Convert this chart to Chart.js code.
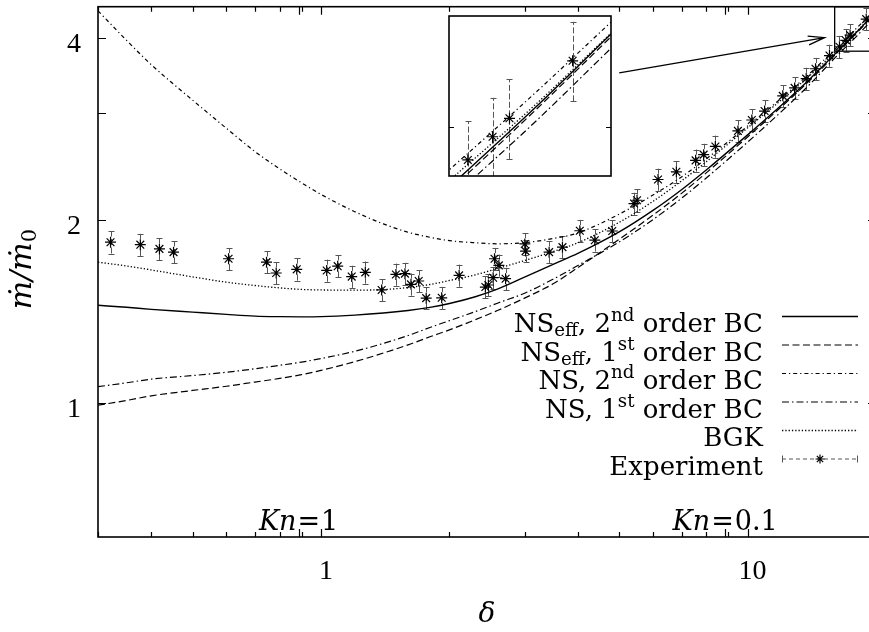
<!DOCTYPE html>
<html><head><meta charset="utf-8">
<script src="https://cdn.jsdelivr.net/npm/chart.js@4"></script>
<style>
html,body{margin:0;padding:0;background:#fff;overflow:hidden;}
#wrap{position:relative;width:869px;height:632px;overflow:hidden;background:#fff;}
#main{position:absolute;left:0;top:0;}
#inset{position:absolute;left:439px;top:6px;}
</style></head><body>
<div id="wrap">
<canvas id="main" width="900" height="632"></canvas>
<canvas id="inset" width="182" height="180"></canvas>
</div>
<script>
// ---------------- data ----------------
const deltaGrid = [0.3, 0.35, 0.4, 0.5, 0.6, 0.7, 0.8, 0.9, 1.0, 1.2, 1.4, 1.6, 1.8, 2.0, 2.3, 2.6, 3.0, 3.5, 4.0, 5.0, 6.0, 7.0, 8.0, 10, 12, 14, 16, 18, 20];
const nsEff2nd = [1.447, 1.436, 1.425, 1.41, 1.398, 1.389, 1.386, 1.385, 1.386, 1.394, 1.405, 1.419, 1.436, 1.457, 1.495, 1.54, 1.61, 1.69, 1.762, 1.912, 2.075, 2.245, 2.42, 2.765, 3.095, 3.42, 3.755, 4.082, 4.415];
const nsEff1st = [0.990, 1.008, 1.026, 1.047, 1.064, 1.081, 1.096, 1.112, 1.13, 1.168, 1.207, 1.245, 1.284, 1.318, 1.37, 1.42, 1.487, 1.57, 1.67, 1.86, 2.038, 2.214, 2.393, 2.743, 3.076, 3.403, 3.74, 4.07, 4.402];
const ns2nd = [4.43, 3.96, 3.61, 3.155, 2.835, 2.595, 2.43, 2.305, 2.205, 2.065, 1.972, 1.91, 1.874, 1.85, 1.835, 1.828, 1.836, 1.865, 1.905, 2.046, 2.2, 2.357, 2.524, 2.859, 3.179, 3.495, 3.824, 4.146, 4.471];
const ns1st = [1.062, 1.078, 1.093, 1.108, 1.122, 1.137, 1.152, 1.166, 1.182, 1.215, 1.252, 1.29, 1.33, 1.365, 1.413, 1.46, 1.515, 1.598, 1.683, 1.841, 2.004, 2.173, 2.347, 2.69, 3.021, 3.352, 3.701, 4.021, 4.349];
const bgk = [1.705, 1.68, 1.655, 1.612, 1.58, 1.56, 1.546, 1.537, 1.534, 1.533, 1.536, 1.548, 1.566, 1.59, 1.625, 1.665, 1.715, 1.775, 1.835, 1.983, 2.148, 2.321, 2.497, 2.84, 3.157, 3.464, 3.781, 4.094, 4.419];

const expDelta = [0.321, 0.377, 0.418, 0.451, 0.607, 0.745, 0.785, 0.877, 1.031, 1.094, 1.180, 1.270, 1.387, 1.498, 1.573, 1.625, 1.694, 1.764, 1.918, 2.107, 2.428, 2.468, 2.532, 2.551, 2.612, 2.708, 3.004, 3.016, 3.425, 3.681, 4.043, 4.383, 4.816, 5.416, 5.505, 6.166, 6.808, 7.553, 7.888, 8.403, 9.491, 10.23, 10.96, 12.09, 12.89, 13.72, 14.43, 15.56, 16.42, 16.99, 17.39, 18.97];
const expFlow = [1.839, 1.822, 1.793, 1.771, 1.727, 1.705, 1.636, 1.659, 1.652, 1.679, 1.614, 1.640, 1.534, 1.627, 1.632, 1.567, 1.587, 1.487, 1.489, 1.621, 1.551, 1.563, 1.607, 1.727, 1.684, 1.601, 1.827, 1.778, 1.771, 1.805, 1.921, 1.853, 1.919, 2.130, 2.157, 2.334, 2.403, 2.510, 2.565, 2.646, 2.807, 2.926, 3.027, 3.207, 3.305, 3.424, 3.555, 3.738, 3.865, 3.961, 4.039, 4.292];
const expRelErr = 0.042;

const seriesLabels = ['NS_eff, 2nd order BC', 'NS_eff, 1st order BC', 'NS, 2nd order BC', 'NS, 1st order BC', 'BGK', 'Experiment'];
const xTickLabels = [1, 10];
const xMinorTicks = [0.3, 0.4, 0.5, 0.6, 0.7, 0.8, 0.9, 2, 3, 4, 5, 6, 7, 8, 9, 20];
const yTickLabels = [1, 2, 4];
const yMinorTicks = [3];
const knLabels = ['1', '0.1'];
const knDelta = [0.886, 8.86];
const mainXRange = [0.3, 20];
const mainYRange = [0.6, 4.5];
const insetXRange = [16, 20];
const insetYRange = [3.8, 4.5];
const insetYTicks = [4];
const arrowFrom = {x: 5.0, y: 3.5};
const arrowTo = {x: 15.15, y: 4.0};

// ---------------- styling ----------------
const SERIF = '"DejaVu Serif", serif';
const TICKFONT = '"Liberation Serif", "Times New Roman", serif';
const seriesStyles = [
  {dash: [], width: 1.4},
  {dash: [7, 3.5], width: 1.2},
  {dash: [4, 3, 1.2, 3], width: 1.2},
  {dash: [7, 3, 1.5, 3], width: 1.2},
  {dash: [1.3, 2], width: 1.3}
];
const curveValues = [nsEff2nd, nsEff1st, ns2nd, ns1st, bgk];
const legendTexts = [
  [{t:'NS'},{t:'eff',sub:1},{t:', 2'},{t:'nd',sup:1},{t:' order BC'}],
  [{t:'NS'},{t:'eff',sub:1},{t:', 1'},{t:'st',sup:1},{t:' order BC'}],
  [{t:'NS, 2'},{t:'nd',sup:1},{t:' order BC'}],
  [{t:'NS, 1'},{t:'st',sup:1},{t:' order BC'}],
  [{t:'BGK'}],
  [{t:'Experiment'}]
];

function makeDatasets(){
  const ds = curveValues.map((vals, k) => ({
    label: seriesLabels[k],
    data: deltaGrid.map((x, i) => ({x, y: vals[i]})),
    borderColor: '#000', borderWidth: seriesStyles[k].width, borderDash: seriesStyles[k].dash,
    pointRadius: 0, fill: false, cubicInterpolationMode: 'monotone'
  }));
  ds.push({
    label: seriesLabels[5],
    data: expDelta.map((x, i) => ({x, y: expFlow[i]})),
    showLine: false, pointStyle: 'star', pointRadius: 5.5,
    pointBorderColor: '#000', pointBackgroundColor: '#000', pointBorderWidth: 1.2,
    borderColor: '#000'
  });
  return ds;
}

function drawRich(ctx, segs, x, y, size, align, italicAll){
  const parts = []; let w = 0;
  for (const s of segs){
    const fs = (s.sub || s.sup) ? size * 0.7 : size;
    const font = ((s.it || italicAll) ? 'italic ' : '') + fs + 'px ' + SERIF;
    ctx.font = font;
    const m = ctx.measureText(s.t).width;
    parts.push({s, font, m}); w += m + (s.gap || 0);
  }
  let cx = align === 'right' ? x - w : (align === 'center' ? x - w / 2 : x);
  ctx.textAlign = 'left'; ctx.textBaseline = 'alphabetic';
  for (const p of parts){
    ctx.font = p.font;
    const dy = p.s.sup ? -0.42 * size : (p.s.sub ? 0.16 * size : 0);
    ctx.fillText(p.s.t, cx, y + dy);
    cx += p.m + (p.s.gap || 0);
  }
}

function drawStar(ctx, cx, cy, r){
  ctx.beginPath();
  ctx.moveTo(cx - r, cy); ctx.lineTo(cx + r, cy);
  ctx.moveTo(cx, cy - r); ctx.lineTo(cx, cy + r);
  const d = r * Math.SQRT1_2;
  ctx.moveTo(cx - d, cy - d); ctx.lineTo(cx + d, cy + d);
  ctx.moveTo(cx - d, cy + d); ctx.lineTo(cx + d, cy - d);
  ctx.stroke();
}

const whiteBg = {
  id: 'whiteBg',
  beforeDraw(chart){
    const {ctx, chartArea: a} = chart;
    ctx.save(); ctx.fillStyle = '#fff';
    if (chart.canvas.id === 'main') ctx.fillRect(0, 0, chart.width, chart.height);
    else ctx.fillRect(a.left, a.top, a.right - a.left, a.bottom - a.top);
    ctx.restore();
  }
};

const errorBars = {
  id: 'errorBars',
  beforeDatasetsDraw(chart){
    const {ctx, chartArea: a, scales: {x, y}} = chart;
    ctx.save();
    ctx.beginPath(); ctx.rect(a.left, a.top, a.right - a.left, a.bottom - a.top); ctx.clip();
    ctx.strokeStyle = '#555'; ctx.lineWidth = 1;
    expDelta.forEach((d, i) => {
      const px = Math.round(x.getPixelForValue(d)) + 0.5;
      const lo = y.getPixelForValue(expFlow[i] * (1 - expRelErr));
      const hi = y.getPixelForValue(expFlow[i] * (1 + expRelErr));
      ctx.setLineDash([6, 2.5]);
      ctx.beginPath(); ctx.moveTo(px, lo); ctx.lineTo(px, hi); ctx.stroke();
      ctx.setLineDash([]);
      ctx.beginPath();
      ctx.moveTo(px - 3, Math.round(lo) + 0.5); ctx.lineTo(px + 3, Math.round(lo) + 0.5);
      ctx.moveTo(px - 3, Math.round(hi) + 0.5); ctx.lineTo(px + 3, Math.round(hi) + 0.5);
      ctx.stroke();
    });
    ctx.restore();
  }
};

const mainDecor = {
  id: 'mainDecor',
  afterDraw(chart){
    const {ctx, chartArea: a, scales: {x, y}} = chart;
    ctx.save();
    ctx.strokeStyle = '#000'; ctx.fillStyle = '#000';
    // inset rectangle and arrow
    ctx.save();
    ctx.beginPath(); ctx.rect(a.left, a.top, a.right - a.left, a.bottom - a.top); ctx.clip();
    ctx.lineWidth = 1.3;
    const rx0 = x.getPixelForValue(insetXRange[0]), rx1 = x.getPixelForValue(insetXRange[1]);
    const ry0 = y.getPixelForValue(insetYRange[0]), ry1 = y.getPixelForValue(insetYRange[1]);
    ctx.strokeRect(rx0, ry1, rx1 - rx0, ry0 - ry1);
    const ax0 = x.getPixelForValue(arrowFrom.x), ay0 = y.getPixelForValue(arrowFrom.y);
    const ax1 = x.getPixelForValue(arrowTo.x), ay1 = y.getPixelForValue(arrowTo.y);
    ctx.beginPath(); ctx.moveTo(ax0, ay0); ctx.lineTo(ax1, ay1);
    const ang = Math.atan2(ay1 - ay0, ax1 - ax0), hl = 17, ha = 15 * Math.PI / 180;
    ctx.moveTo(ax1 - hl * Math.cos(ang - ha), ay1 - hl * Math.sin(ang - ha)); ctx.lineTo(ax1, ay1);
    ctx.lineTo(ax1 - hl * Math.cos(ang + ha), ay1 - hl * Math.sin(ang + ha));
    ctx.stroke();
    ctx.restore();

    // ticks
    ctx.lineWidth = 1.2;
    ctx.beginPath();
    const vt = (v, len) => { const p = Math.round(x.getPixelForValue(v)) + 0.5;
      ctx.moveTo(p, a.bottom); ctx.lineTo(p, a.bottom - len); ctx.moveTo(p, a.top); ctx.lineTo(p, a.top + len); };
    const ht = (v, len) => { const p = Math.round(y.getPixelForValue(v)) + 0.5;
      ctx.moveTo(a.left, p); ctx.lineTo(a.left + len, p); ctx.moveTo(a.right, p); ctx.lineTo(a.right - len, p); };
    xTickLabels.forEach(v => vt(v, 8));
    xMinorTicks.forEach(v => vt(v, 5));
    knDelta.forEach(v => vt(v, 8));
    yTickLabels.forEach(v => ht(v, 8));
    yMinorTicks.forEach(v => ht(v, 8));
    ctx.stroke();
    ctx.lineWidth = 1.6;
    ctx.strokeRect(a.left, a.top, a.right - a.left, a.bottom - a.top);

    // Kn labels
    knDelta.forEach((d, i) => {
      const px = x.getPixelForValue(d);
      drawRich(ctx, [{t:'Kn', it:1, gap:1},{t:'=' , gap:1},{t:knLabels[i]}], px, 530, 27, 'center');
    });

    // axis titles
    drawRich(ctx, [{t:'δ', it:1}], 487, 622, 28, 'center');
    ctx.save();
    ctx.translate(31, 269); ctx.rotate(-Math.PI / 2);
    drawRich(ctx, [{t:'ṁ/ṁ', it:1},{t:'0', sub:1}], 0, 0, 30, 'center');
    ctx.restore();

    // legend
    const lx0 = 782, lx1 = 858, textRight = 763, row0 = 316, rowH = 28.5;
    legendTexts.forEach((segs, k) => {
      const ry = row0 + k * rowH;
      drawRich(ctx, segs, textRight, ry + 16, 26, 'right');
      if (k < 5){
        ctx.lineWidth = seriesStyles[k].width; ctx.setLineDash(seriesStyles[k].dash);
        ctx.beginPath(); ctx.moveTo(lx0, ry + 0.5); ctx.lineTo(lx1, ry + 0.5); ctx.stroke();
        ctx.setLineDash([]);
      } else {
        ctx.strokeStyle = '#555'; ctx.lineWidth = 1; ctx.setLineDash([4, 3]);
        ctx.beginPath(); ctx.moveTo(lx0, ry + 0.5); ctx.lineTo(lx1, ry + 0.5); ctx.stroke();
        ctx.setLineDash([]);
        ctx.beginPath(); ctx.moveTo(lx0 + 0.5, ry - 3); ctx.lineTo(lx0 + 0.5, ry + 4);
        ctx.moveTo(lx1 - 0.5, ry - 3); ctx.lineTo(lx1 - 0.5, ry + 4); ctx.stroke();
        ctx.strokeStyle = '#000'; ctx.lineWidth = 1.2;
        drawStar(ctx, (lx0 + lx1) / 2, ry + 0.5, 4.5);
      }
    });
    ctx.restore();
  }
};

const insetDecor = {
  id: 'insetDecor',
  afterDraw(chart){
    const {ctx, chartArea: a, scales: {y}} = chart;
    ctx.save(); ctx.strokeStyle = '#000';
    ctx.lineWidth = 1.2; ctx.beginPath();
    insetYTicks.forEach(v => { const p = Math.round(y.getPixelForValue(v)) + 0.5;
      ctx.moveTo(a.left, p); ctx.lineTo(a.left + 5, p); ctx.moveTo(a.right, p); ctx.lineTo(a.right - 5, p); });
    ctx.stroke();
    ctx.lineWidth = 1.6;
    ctx.strokeRect(a.left, a.top, a.right - a.left, a.bottom - a.top);
    ctx.restore();
  }
};

Chart.defaults.font.family = SERIF;

function noPad(s){ s.paddingTop = 0; s.paddingBottom = 0; s.paddingLeft = 0; s.paddingRight = 0; }

new Chart(document.getElementById('main'), {
  type: 'line',
  data: {datasets: makeDatasets()},
  options: {
    responsive: false, animation: false, devicePixelRatio: 1,
    layout: {padding: {left: 0, top: 1, right: 24, bottom: 0}},
    scales: {
      x: {
        type: 'logarithmic', min: mainXRange[0], max: mainXRange[1], position: 'bottom',
        grid: {display: false, drawTicks: false}, border: {display: false},
        afterBuildTicks: s => { s.ticks = xTickLabels.map(v => ({value: v})); },
        afterFit: s => { s.height = 95; noPad(s); },
        ticks: {autoSkip: false, maxRotation: 0, minRotation: 0, padding: 18, labelOffset: 5,
          color: '#000', font: {family: TICKFONT, size: 28}, callback: v => String(v)}
      },
      y: {
        type: 'logarithmic', min: mainYRange[0], max: mainYRange[1], position: 'left',
        grid: {display: false, drawTicks: false}, border: {display: false},
        afterBuildTicks: s => { s.ticks = yTickLabels.map(v => ({value: v})); },
        afterFit: s => { s.width = 98; noPad(s); },
        ticks: {autoSkip: false, padding: 17, labelOffset: 7,
          color: '#000', font: {family: TICKFONT, size: 28}, callback: v => String(v)}
      }
    },
    plugins: {legend: {display: false}, tooltip: {enabled: false}}
  },
  plugins: [whiteBg, errorBars, mainDecor]
});

new Chart(document.getElementById('inset'), {
  type: 'line',
  data: {datasets: makeDatasets()},
  options: {
    responsive: false, animation: false, devicePixelRatio: 1,
    layout: {padding: 10},
    scales: {
      x: {type: 'logarithmic', min: insetXRange[0], max: insetXRange[1], display: false},
      y: {type: 'logarithmic', min: insetYRange[0], max: insetYRange[1], display: false}
    },
    plugins: {legend: {display: false}, tooltip: {enabled: false}}
  },
  plugins: [whiteBg, errorBars, insetDecor]
});
</script>
</body></html>
